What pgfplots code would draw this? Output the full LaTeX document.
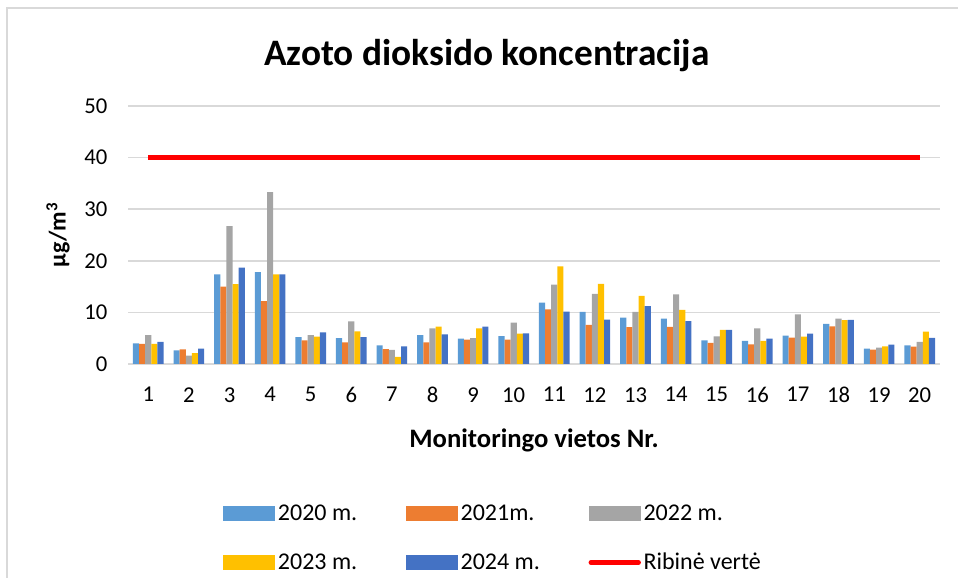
\documentclass[border=0pt]{standalone}
\usepackage{fontspec}
\setmainfont{Carlito}
\usepackage{pgfplots}
\usepackage{pgfplotstable}
\pgfplotsset{compat=1.18}
\definecolor{c2020}{HTML}{5B9BD5}
\definecolor{c2021}{HTML}{ED7D31}
\definecolor{c2022}{HTML}{A5A5A5}
\definecolor{c2023}{HTML}{FFC000}
\definecolor{c2024}{HTML}{4472C4}
\definecolor{gridc}{HTML}{D9D9D9}
\definecolor{framec}{HTML}{D9D9D9}
\pgfplotstableread{
x  a     b     c     d     e
1  4.0   3.9   5.6   3.9   4.3
2  2.65  2.85  1.6   2.1   3.0
3  17.35 15.0  26.7  15.5  18.7
4  17.8  12.2  33.3  17.35 17.35
5  5.2   4.6   5.6   5.3   6.15
6  5.0   4.2   8.25  6.3   5.2
7  3.6   2.9   2.75  1.4   3.4
8  5.6   4.2   6.9   7.25  5.75
9  4.9   4.7   5.0   6.9   7.25
10 5.4   4.7   8.0   5.9   5.95
11 11.9  10.6  15.4  18.9  10.15
12 10.1  7.6   13.6  15.55 8.6
13 9.0   7.15  10.1  13.2  11.2
14 8.8   7.2   13.5  10.5  8.3
15 4.6   4.1   5.35  6.6   6.6
16 4.5   3.8   6.9   4.5   4.9
17 5.5   5.1   9.6   5.3   5.9
18 7.8   7.3   8.8   8.5   8.55
19 3.0   2.8   3.15  3.4   3.75
20 3.6   3.35  4.3   6.25  5.05
}\datatable
\begin{document}
\begin{tikzpicture}
\useasboundingbox (0,0) rectangle (718.5pt,433.5pt);
\draw[framec, line width=1.2pt] (5.25pt,0) -- (5.25pt,427.5pt) -- (718.5pt,427.5pt);
\begin{axis}[
  at={(96pt,160.5pt)}, anchor=south west,
  scale only axis, width=609pt, height=193.5pt,
  xmin=0.5, xmax=20.5, ymin=0, ymax=50,
  ybar=0pt, bar width=0.151,
  xtick={1,...,20}, ytick={0,10,...,50},
  major tick length=0pt,
  axis line style={draw=none},
  ymajorgrids, grid style={gridc, line width=1.2pt},
  /pgf/number format/assume math mode=true,
  tick label style={font=\fontsize{17}{20}\selectfont, black},
  xticklabel style={yshift=-14pt},
  yticklabel style={xshift=-12pt},
  title={\textbf{Azoto dioksido koncentracija}},
  title style={font=\fontsize{28}{32}\selectfont, at={(axis description cs:0.442,1.163)}, anchor=center},
  xlabel={\textbf{Monitoringo vietos Nr.}},
  xlabel style={font=\fontsize{20}{24}\selectfont, at={(axis description cs:0.5,-0.298)}, anchor=center},
  ylabel={\textbf{µg/m\textsuperscript{3}}},
  ylabel style={font=\fontsize{18}{21}\selectfont, at={(axis description cs:-0.0862,0.5)}, anchor=center, rotate=0},
  clip=false,
  legend columns=3,
  legend cell align=left,
  legend style={draw=none, fill=none, inner sep=0pt, at={(axis description cs:0.117,-0.535)}, anchor=north west,
    font=\fontsize{18}{21}\selectfont,
    /tikz/every even column/.append style={column sep=0pt},
    row sep=19pt},
  legend image code/.code={\fill[#1] (0pt,-5.6pt) rectangle (39pt,5.6pt);},
]
\addplot[fill=c2020, draw=none] table[x=x,y=a]{\datatable};
\addlegendentry{\makebox[94pt][l]{2020 m.}}
\addplot[fill=c2021, draw=none] table[x=x,y=b]{\datatable};
\addlegendentry{\makebox[94pt][l]{2021m.}}
\addplot[fill=c2022, draw=none] table[x=x,y=c]{\datatable};
\addlegendentry{\makebox[88pt][l]{2022 m.}}
\addplot[fill=c2023, draw=none] table[x=x,y=d]{\datatable};
\addlegendentry{\makebox[94pt][l]{2023 m.}}
\addplot[fill=c2024, draw=none] table[x=x,y=e]{\datatable};
\addlegendentry{\makebox[94pt][l]{2024 m.}}
\addplot[red, line width=3.2pt, sharp plot, mark=none,
  legend image code/.code={\draw[red, line width=3.2pt, line cap=round] (1.5pt,0pt) -- (37.5pt,0pt);}]
  coordinates {(1,40) (20,40)};
\addlegendentry{\makebox[88pt][l]{Ribinė vertė}}
\end{axis}
\end{tikzpicture}
\end{document}
